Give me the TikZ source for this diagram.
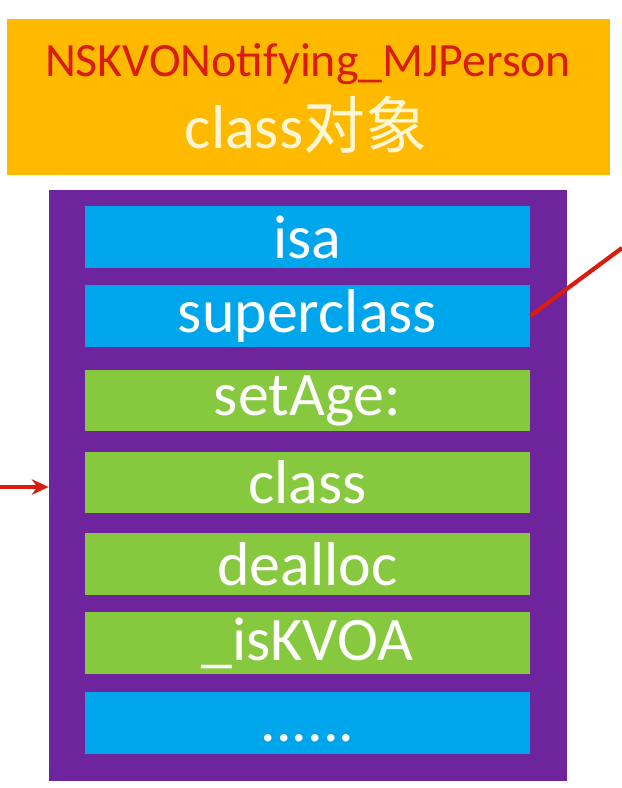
\documentclass[tikz,border=0pt]{standalone}
\usepackage{fontspec}
\setmainfont{Carlito}
\newfontfamily\cjk{Noto Sans CJK SC}
\usepackage{tikz}
\usetikzlibrary{arrows.meta,positioning,calc}
\definecolor{clrO}{RGB}{255,186,0}
\definecolor{clrP}{RGB}{110,36,156}
\definecolor{clrB}{RGB}{0,166,236}
\definecolor{clrG}{RGB}{134,200,62}
\definecolor{clrR}{RGB}{216,28,14}
\definecolor{clrC}{RGB}{255,246,214}

\begin{document}
\begin{tikzpicture}[x=0.025cm,y=-0.025cm,
   head/.style={rectangle,fill=clrO,minimum width=15.08cm,minimum height=3.9cm,inner sep=0pt},
   frame/.style={rectangle,fill=clrP,minimum width=12.95cm,minimum height=14.78cm,inner sep=0pt},
   slot/.style={rectangle,minimum width=11.12cm,minimum height=1.53cm,inner sep=0pt,
     text=white,font=\fontsize{44}{50}\selectfont},
   isaslot/.style={slot,fill=clrB},
   fnslot/.style={slot,fill=clrG},
   ptr/.style={draw=clrR,line width=3pt}]

  \useasboundingbox (0,0) rectangle (622,788);

  \node[head] (hdr) at (308.5,97) {};
  \node[text=clrR,font=\fontsize{34}{38}\selectfont] (hname) at (308,64)
    {NSKVONotifying\_MJPerson};
  \node[text=clrC,font=\fontsize{44}{50}\selectfont] (hkind) at (306,125)
    {class{\cjk 对象}};

  \node[frame] (box) at (308,485.5) {};

  \node[isaslot] (isa)   at (307.5,237)   {isa};
  \node[isaslot] (super) at (307.5,316)   {superclass};
  \node[fnslot]  (mset)  at (307.5,400.5) {setAge:};
  \node[fnslot]  (mcls)  at (307.5,482.5) {class};
  \node[fnslot]  (mdea)  at (307.5,564)   {dealloc};
  \node[fnslot]  (mkvo)  at (307.5,643)   {\_isKVOA};
  \node[isaslot,text height=26pt,text depth=0pt] (more) at (307.5,723) {......};

  \coordinate (lin) at (0,487);
  \coordinate (rin) at (622,248);
  \draw[ptr,-{Stealth[length=12pt,width=11pt]}] (lin) -- (box.west |- lin);
  \draw[ptr] (rin) -- (super.east);
\end{tikzpicture}
\end{document}
